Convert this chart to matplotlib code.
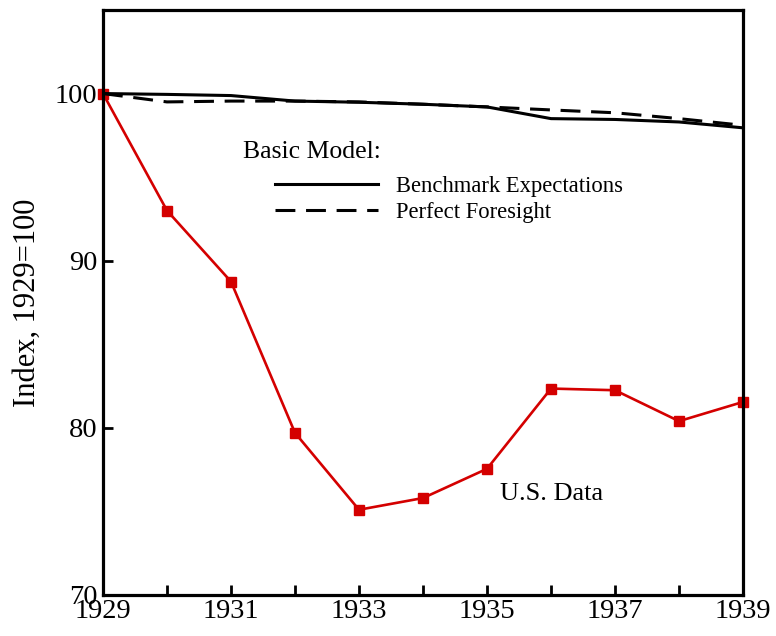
import numpy as np
import matplotlib.pyplot as plt
from matplotlib.ticker import FixedLocator

plt.rcParams['font.family'] = ['Liberation Serif', 'DejaVu Serif']

# ==================== data ====================
years = np.arange(1929, 1940)

us_data = [100.0, 93.0, 88.75, 79.7, 75.1, 75.8, 77.55, 82.35, 82.25, 80.4, 81.55]
benchmark = [100.0, 99.95, 99.88, 99.55, 99.48, 99.36, 99.2, 98.5, 98.45, 98.3, 97.95]
foresight = [100.0, 99.5, 99.55, 99.55, 99.5, 99.36, 99.2, 99.02, 98.85, 98.5, 98.1]

ytick_vals = [70, 80, 90, 100]
xtick_major = [1929, 1931, 1933, 1935, 1937, 1939]
xtick_minor = [1930, 1932, 1934, 1936, 1938]
# ================================================

fig = plt.figure(figsize=(7.76, 6.36), dpi=100)
ax = fig.add_axes([0.1327, 0.0645, 0.8248, 0.9198])

red = "#d40000"
ax.plot(years, us_data, color=red, lw=1.9, marker="s", ms=7.5,
        mec=red, mfc=red, clip_on=False, zorder=2)
l1, = ax.plot(years, benchmark, color="black", lw=2.2, zorder=3,
              label="Benchmark Expectations")
l2, = ax.plot(years, foresight, color="black", lw=2.2, zorder=3,
              dashes=(6.5, 3.5), label="Perfect Foresight")

ax.set_xlim(1929, 1939)
ax.set_ylim(70, 105)

ax.set_yticks(ytick_vals)
ax.xaxis.set_major_locator(FixedLocator(xtick_major))
ax.xaxis.set_minor_locator(FixedLocator(xtick_minor))
ax.set_xticklabels([str(y) for y in xtick_major])

ax.tick_params(axis="both", which="both", direction="in", length=7, width=2,
               labelsize=20.5, top=False, right=False)
ax.tick_params(axis="x", which="both", pad=3)
ax.tick_params(axis="y", which="both", pad=4)

for s in ax.spines.values():
    s.set_linewidth(2.3)

ax.set_ylabel("Index, 1929=100", fontsize=22, labelpad=9)

ax.text(0.2187, 0.757, "Basic Model:", transform=ax.transAxes,
        fontsize=18.5, ha="left", va="center")
ax.legend(handles=[l1, l2], loc="center left", bbox_to_anchor=(0.269, 0.676),
          frameon=False, fontsize=16.3, handlelength=4.55, handletextpad=0.8,
          labelspacing=0.22, borderpad=0, borderaxespad=0)

ax.text(0.62, 0.1726, "U.S. Data", transform=ax.transAxes,
        fontsize=19, ha="left", va="center")

fig.savefig("out.png", dpi=100)
